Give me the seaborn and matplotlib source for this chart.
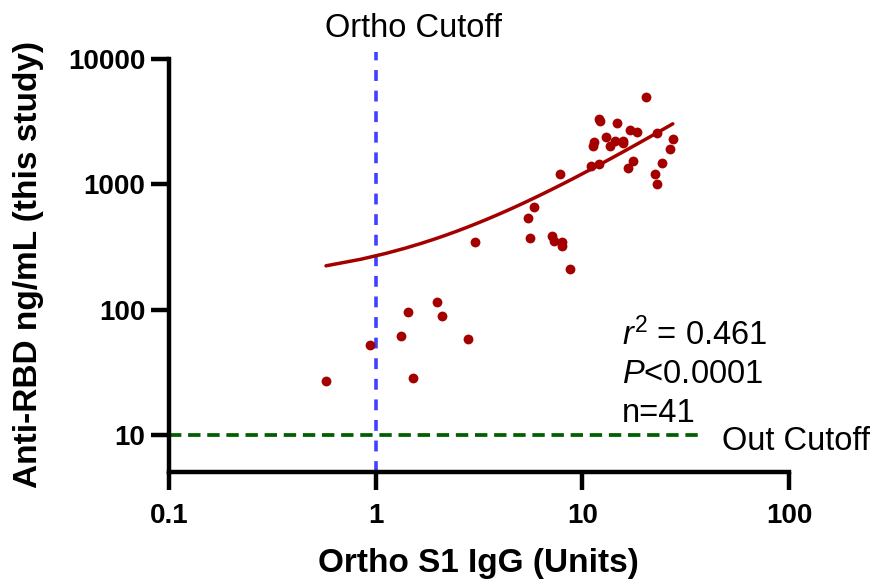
import numpy as np
import pandas as pd
import matplotlib
matplotlib.use("Agg")
import matplotlib.pyplot as plt
import seaborn as sns

# Data
ortho_s1 = [0.575, 0.935, 1.32, 1.44, 1.52, 1.97, 2.10, 2.80, 3.03, 5.44, 5.81, 5.56,
            7.17, 7.33, 7.93, 7.93, 8.75, 7.84, 11.05, 12.07, 11.4, 11.3, 12.07, 12.2,
            14.7, 13.04, 13.6, 14.4, 15.7, 15.8, 17.0, 18.4, 20.3, 22.9, 27.4, 26.5,
            24.2, 22.4, 22.9, 17.6, 16.6]
anti_rbd = [27, 52.5, 62, 96, 28.6, 116, 89.6, 58.6, 344, 535, 655, 370,
            384, 356, 344, 319, 209, 1202, 1393, 1445, 2168, 2014, 3311, 3190,
            3076, 2377, 2014, 2208, 2208, 2130, 2704, 2606, 4966, 2559, 2291, 1905,
            1472, 1202, 1000, 1528, 1343]
stats_lines = ["$r^2$ = 0.461", "$P$<0.0001", "n=41"]
ortho_cutoff = 1
out_cutoff = 10
x_ticks = [0.1, 1, 10, 100]
x_ticklabels = ["0.1", "1", "10", "100"]
y_ticks = [10, 100, 1000, 10000]
y_ticklabels = ["10", "100", "1000", "10000"]

df = pd.DataFrame({"x": ortho_s1, "y": anti_rbd})

sns.set_style("ticks")
plt.rcParams["font.family"] = ["Liberation Sans", "DejaVu Sans"]
plt.rcParams["mathtext.fontset"] = "custom"
plt.rcParams["mathtext.rm"] = "Liberation Sans"
plt.rcParams["mathtext.it"] = "Liberation Sans:italic"
plt.rcParams["text.color"] = "black"
plt.rcParams["axes.edgecolor"] = "black"
plt.rcParams["xtick.color"] = "black"
plt.rcParams["ytick.color"] = "black"

red = "#A50000"
W, H = 879, 584
fig = plt.figure(figsize=(W / 100, H / 100), dpi=100)
ax = fig.add_axes([169 / W, 1 - 472 / H, (789 - 169) / W, (472 - 52) / H])
ax.set_xscale("log")
ax.set_yscale("log")

sns.regplot(data=df, x="x", y="y", ax=ax, ci=None, color=red,
            scatter_kws=dict(s=50, linewidths=0, alpha=1, zorder=4),
            line_kws=dict(lw=2.5, zorder=3))

ax.set_xlim(0.1, 100)
ax.set_ylim(10 ** 0.704, 10 ** 4.056)
ax.spines["left"].set_bounds(10 ** 0.704, 10000)
sns.despine(ax=ax)
for s in ["left", "bottom"]:
    ax.spines[s].set_linewidth(3.2)
    ax.spines[s].set_capstyle("projecting")

ax.axvline(ortho_cutoff, ymin=0, ymax=1, color="#4040FF", ls=(0, (3, 2.7)), lw=2.6, zorder=2)
ax.plot([0.1, 38.6], [out_cutoff, out_cutoff], color="#006000", ls=(0, (3.3, 1.8)), lw=2.7, zorder=2)

ax.set_xticks(x_ticks)
ax.set_xticklabels(x_ticklabels)
ax.set_yticks(y_ticks)
ax.set_yticklabels(y_ticklabels)
ax.minorticks_off()
ax.tick_params(axis="both", which="major", width=3.2, labelsize=20, direction="out")
ax.tick_params(axis="x", length=13, pad=9)
ax.tick_params(axis="y", length=13, pad=4)
for lab in ax.get_xticklabels() + ax.get_yticklabels():
    lab.set_fontweight("bold")

ax.set_xlabel("")
ax.set_ylabel("")
fig.text(478 / W, 1 - 572 / H, "Ortho S1 IgG (Units)", ha="center", va="baseline",
         fontsize=24, fontweight="bold")
fig.text(29 / W, 1 - 265 / H, "Anti-RBD ng/mL (this study)", ha="center", va="center",
         rotation=90, fontsize=24, fontweight="bold")
fig.text(325 / W, 1 - 37 / H, "Ortho Cutoff", ha="left", va="baseline", fontsize=23.5)
fig.text(722 / W, 1 - 450 / H, "Out Cutoff", ha="left", va="baseline", fontsize=23.5)
for txt, yb in zip(stats_lines, [345, 383, 422]):
    fig.text(622 / W, 1 - yb / H, txt, ha="left", va="baseline", fontsize=23.5)

fig.savefig("out.png", dpi=100)
